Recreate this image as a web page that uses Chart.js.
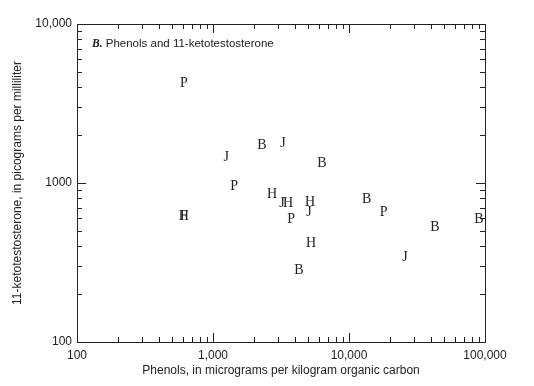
<!DOCTYPE html>
<html>
<head>
<meta charset="utf-8">
<script src="https://cdn.jsdelivr.net/npm/chart.js@4.4.1/dist/chart.umd.min.js"></script>
<style>
html,body{margin:0;padding:0;background:#fff;}
#wrap{width:534px;height:386px;}
</style>
</head>
<body>
<div id="wrap"><canvas id="c" width="534" height="386"></canvas></div>
<script>
// ---- data (phenols µg/kg OC, 11-ketotestosterone pg/mL) ----
const seriesLetters = ["P", "J", "B", "H", "F"];
const pX = [610, 1430, 3750, 18000];
const pY = [4300, 970, 600, 660];
const jX = [1250, 3270, 3220, 5080, 25800];
const jY = [1460, 1810, 750, 660, 345];
const bX = [2290, 6330, 4290, 13500, 42900, 90300];
const bY = [1760, 1340, 288, 805, 530, 600];
const hX = [610, 2720, 3560, 5170, 5250];
const hY = [630, 855, 760, 770, 426];
const fX = [610];
const fY = [630];
const xTickValues = [100, 1000, 10000, 100000];
const xTickLabels = ["100", "1,000", "10,000", "100,000"];
const yTickValues = [100, 1000, 10000];
const yTickLabels = ["100", "1000", "10,000"];
const panelLabel = "B.";
const panelTitle = " Phenols and 11-ketotestosterone";
const xTitle = "Phenols, in micrograms per kilogram organic carbon";
const yTitle = "11-ketotestosterone, in picograms per milliliter";

const xs = [pX, jX, bX, hX, fX];
const ys = [pY, jY, bY, hY, fY];

const datasets = seriesLetters.map((L, i) => ({
  label: L,
  data: xs[i].map((x, k) => ({x: x, y: ys[i][k]})),
  pointRadius: 0,
  pointHoverRadius: 0,
  showLine: false
}));

const INK = "#222";

const letterPlugin = {
  id: "letters",
  afterDatasetsDraw(chart) {
    const ctx = chart.ctx;
    ctx.save();
    const size = 14;
    ctx.font = size + "px 'Liberation Serif', 'DejaVu Serif', serif";
    ctx.fillStyle = INK;
    ctx.textAlign = "center";
    ctx.textBaseline = "alphabetic";
    chart.data.datasets.forEach((ds, i) => {
      const meta = chart.getDatasetMeta(i);
      meta.data.forEach(pt => {
        ctx.fillText(ds.label, pt.x, pt.y + size * 0.33);
      });
    });
    ctx.restore();
  }
};

function minorValues(min, max) {
  const out = [];
  for (let d = min; d < max; d *= 10) {
    for (let m = 2; m <= 9; m++) out.push(d * m);
  }
  return out;
}

const framePlugin = {
  id: "frame",
  afterDraw(chart) {
    const ctx = chart.ctx;
    const a = chart.chartArea;
    const xS = chart.scales.x, yS = chart.scales.y;
    ctx.save();
    ctx.strokeStyle = INK;
    ctx.lineWidth = 1;
    ctx.strokeRect(Math.round(a.left) + 0.5, Math.round(a.top) + 0.5,
                   Math.round(a.right - a.left), Math.round(a.bottom - a.top));
    ctx.beginPath();
    const minL = 5, majL = 9;
    const xm = minorValues(100, 100000);
    const drawX = (v, len) => {
      const px = Math.round(xS.getPixelForValue(v)) + 0.5;
      ctx.moveTo(px, a.bottom); ctx.lineTo(px, a.bottom - len);
      ctx.moveTo(px, a.top); ctx.lineTo(px, a.top + len);
    };
    xm.forEach(v => drawX(v, minL));
    xTickValues.forEach(v => drawX(v, majL));
    const ym = minorValues(100, 10000);
    const drawY = (v, len) => {
      const py = Math.round(yS.getPixelForValue(v)) + 0.5;
      ctx.moveTo(a.left, py); ctx.lineTo(a.left + len, py);
      ctx.moveTo(a.right, py); ctx.lineTo(a.right - len, py);
    };
    ym.forEach(v => drawY(v, minL));
    yTickValues.forEach(v => drawY(v, majL));
    ctx.stroke();
    // panel title
    ctx.fillStyle = INK;
    ctx.textBaseline = "middle";
    ctx.textAlign = "left";
    ctx.font = "bold italic 11.5px 'Liberation Serif', serif";
    const tx = a.left + 15, ty = a.top + 20;
    ctx.fillText(panelLabel, tx, ty);
    const w = ctx.measureText(panelLabel).width;
    ctx.font = "11.5px 'Liberation Sans', Arial, sans-serif";
    ctx.fillText(panelTitle, tx + w, ty);
    ctx.restore();
  }
};

new Chart(document.getElementById("c"), {
  type: "scatter",
  data: { datasets: datasets },
  options: {
    responsive: false,
    animation: false,
    events: [],
    layout: { padding: { top: 24, right: 49, left: 10, bottom: 8 } },
    plugins: { legend: { display: false }, tooltip: { enabled: false }, title: { display: false } },
    scales: {
      x: {
        type: "logarithmic",
        min: 100, max: 100000,
        afterBuildTicks(s) { s.ticks = xTickValues.map(v => ({value: v})); },
        afterFit(s) { s.height = 36; },
        grid: { display: false, drawTicks: false },
        border: { display: false },
        ticks: {
          padding: 6,
          autoSkip: false,
          maxRotation: 0,
          color: INK,
          font: { family: "'Liberation Sans', Arial, sans-serif", size: 12 },
          callback(v) { const i = xTickValues.indexOf(v); return i >= 0 ? xTickLabels[i] : ""; }
        },
        title: {
          display: true, text: xTitle, color: INK, padding: { top: 4, bottom: 0 },
          font: { family: "'Liberation Sans', Arial, sans-serif", size: 12 }
        }
      },
      y: {
        type: "logarithmic",
        min: 100, max: 10000,
        afterBuildTicks(s) { s.ticks = yTickValues.map(v => ({value: v})); },
        afterFit(s) { s.width = 67; },
        grid: { display: false, drawTicks: false },
        border: { display: false },
        ticks: {
          padding: 5,
          autoSkip: false,
          color: INK,
          font: { family: "'Liberation Sans', Arial, sans-serif", size: 12 },
          callback(v) { const i = yTickValues.indexOf(v); return i >= 0 ? yTickLabels[i] : ""; }
        },
        title: {
          display: true, text: yTitle, color: INK, padding: { top: 0, bottom: 0 },
          font: { family: "'Liberation Sans', Arial, sans-serif", size: 12 }
        }
      }
    }
  },
  plugins: [letterPlugin, framePlugin]
});
</script>
</body>
</html>
